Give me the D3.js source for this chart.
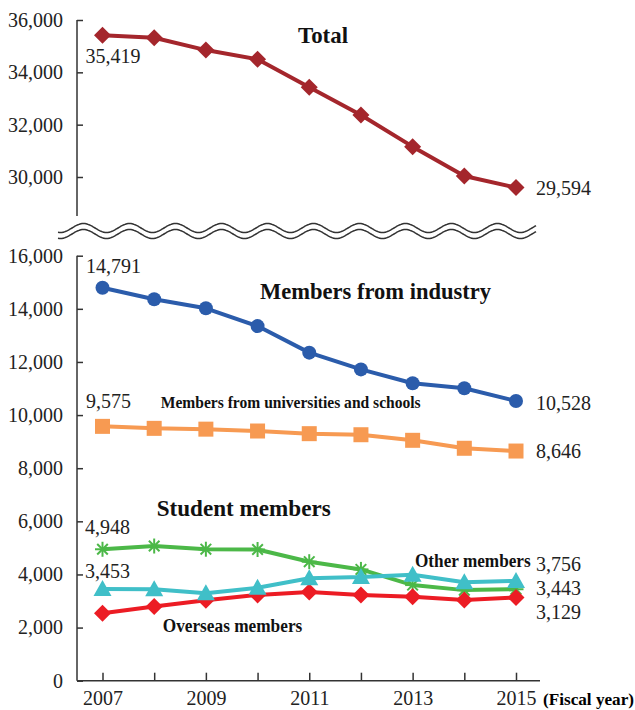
<!DOCTYPE html>
<html>
<head>
<meta charset="utf-8">
<script src="https://cdn.jsdelivr.net/npm/d3@7"></script>
<style>
  html, body { margin: 0; padding: 0; background: #fff; }
  svg { display: block; }
</style>
</head>
<body>
<svg id="chart" width="635" height="710"></svg>
<script>
// ---------------- data ----------------
const years = [2007, 2008, 2009, 2010, 2011, 2012, 2013, 2014, 2015];
const yearLabels = ["2007", "", "2009", "", "2011", "", "2013", "", "2015"];
const totalTicks = [30000, 32000, 34000, 36000];
const lowerTicks = [0, 2000, 4000, 6000, 8000, 10000, 12000, 14000, 16000];

const total        = [35419, 35320, 34850, 34500, 33430, 32370, 31160, 30040, 29594];
const industry     = [14791, 14360, 14020, 13350, 12350, 11720, 11200, 11010, 10528];
const universities = [9575, 9500, 9470, 9400, 9300, 9260, 9050, 8750, 8646];
const students     = [4948, 5070, 4950, 4940, 4480, 4190, 3600, 3410, 3443];
const others       = [3453, 3440, 3290, 3500, 3860, 3900, 3990, 3710, 3756];
const overseas     = [2540, 2790, 3030, 3230, 3340, 3230, 3160, 3040, 3129];

const seriesNames = ["Total", "Members from industry", "Members from universities and schools",
                     "Student members", "Other members", "Overseas members"];

// ---------------- layout ----------------
const svg = d3.select("#chart");
const axisColor = "#333";
const numFont = "'Liberation Serif', 'Times New Roman', serif";

const x = d3.scaleLinear().domain([2007, 2015]).range([102.5, 516]);
const yTop = d3.scaleLinear().domain([30000, 36000]).range([177, 20]);
const yBot = d3.scaleLinear().domain([0, 16000]).range([680.7, 255.7]);
const axisX = 77;

// ---------------- axes ----------------
function styleAxis(g) {
  g.selectAll("path.domain").remove();
  g.selectAll(".tick line").attr("stroke", axisColor).attr("stroke-width", 1.5);
  g.selectAll(".tick text").attr("fill", "#222").style("font-family", numFont).style("font-size", "20px");
}

// top y axis
svg.append("line").attr("x1", axisX).attr("x2", axisX).attr("y1", yTop(36000)).attr("y2", 216)
  .attr("stroke", axisColor).attr("stroke-width", 1.5);
svg.append("g").attr("transform", `translate(${axisX},0)`)
  .call(d3.axisLeft(yTop).tickValues(totalTicks).tickFormat(d3.format(",")).tickSizeInner(-6).tickSizeOuter(0).tickPadding(14))
  .call(styleAxis);

// bottom y axis
svg.append("line").attr("x1", axisX).attr("x2", axisX).attr("y1", yBot(16000)).attr("y2", yBot(0))
  .attr("stroke", axisColor).attr("stroke-width", 1.5);
svg.append("g").attr("transform", `translate(${axisX},0)`)
  .call(d3.axisLeft(yBot).tickValues(lowerTicks).tickFormat(d3.format(",")).tickSizeInner(-6).tickSizeOuter(0).tickPadding(14))
  .call(styleAxis);

// x axis
svg.append("line").attr("x1", axisX).attr("x2", 540).attr("y1", yBot(0)).attr("y2", yBot(0))
  .attr("stroke", axisColor).attr("stroke-width", 1.5);
svg.append("g").attr("transform", `translate(0,${yBot(0)})`)
  .call(d3.axisBottom(x).tickValues(years).tickFormat((d, i) => yearLabels[i]).tickSizeInner(-8).tickSizeOuter(0).tickPadding(10))
  .call(styleAxis);

svg.append("text").attr("x", 543).attr("y", 705)
  .attr("font-family", numFont).attr("font-weight", "bold").attr("font-size", 17)
  .attr("textLength", 91).attr("lengthAdjust", "spacingAndGlyphs")
  .text("(Fiscal year)");

// ---------------- axis break (double wave) ----------------
const wavePeriod = 46, waveAmp = 4.5;
const wavePts = d3.range(58, 537, 1);
const waveLine = d3.line().curve(d3.curveBasis);
[228, 234].forEach(cy => {
  svg.append("path")
    .attr("d", waveLine(wavePts.map(px => [px, cy - waveAmp * Math.sin((px - 72) / wavePeriod * 2 * Math.PI)])))
    .attr("fill", "none").attr("stroke", "#333").attr("stroke-width", 1.5);
});

// ---------------- markers ----------------
function drawSeries(values, yScale, color, symbol) {
  const pts = values.map((v, i) => [x(years[i]), yScale(v)]);
  svg.append("path").attr("d", d3.line()(pts))
    .attr("fill", "none").attr("stroke", color).attr("stroke-width", 4).attr("stroke-linejoin", "round");
  const g = svg.append("g");
  pts.forEach(([px, py]) => {
    if (symbol === "diamond") {
      const r = 8.5;
      g.append("path").attr("d", `M${px},${py - r}L${px + r},${py}L${px},${py + r}L${px - r},${py}Z`).attr("fill", color);
    } else if (symbol === "circle") {
      g.append("circle").attr("cx", px).attr("cy", py).attr("r", 7).attr("fill", color);
    } else if (symbol === "square") {
      g.append("rect").attr("x", px - 7.5).attr("y", py - 7.5).attr("width", 15).attr("height", 15).attr("fill", color);
    } else if (symbol === "triangle") {
      g.append("path").attr("d", `M${px},${py - 9}L${px + 9},${py + 7}L${px - 9},${py + 7}Z`).attr("fill", color);
    } else if (symbol === "star") {
      const r = 7.5;
      [0, 45, 90, 135].forEach(a => {
        const rad = a * Math.PI / 180;
        g.append("line")
          .attr("x1", px - r * Math.cos(rad)).attr("y1", py - r * Math.sin(rad))
          .attr("x2", px + r * Math.cos(rad)).attr("y2", py + r * Math.sin(rad))
          .attr("stroke", color).attr("stroke-width", 2);
      });
    }
  });
}

drawSeries(total, yTop, "#a4262c", "diamond");
drawSeries(industry, yBot, "#2b5cab", "circle");
drawSeries(universities, yBot, "#f79a52", "square");
drawSeries(students, yBot, "#4cb848", "star");
drawSeries(overseas, yBot, "#ec1c24", "diamond");
drawSeries(others, yBot, "#40bfc8", "triangle");

// ---------------- value labels ----------------
const first = 0, last = years.length - 1;
const valueLabels = [
  { v: total[first], y: yTop, i: first, dx: -17, dy: 28 },
  { v: total[last], y: yTop, i: last, dx: 20, dy: 7 },
  { v: industry[first], y: yBot, i: first, dx: -16.5, dy: -14.5 },
  { v: industry[last], y: yBot, i: last, dx: 20, dy: 9 },
  { v: universities[first], y: yBot, i: first, dx: -16.5, dy: -18 },
  { v: universities[last], y: yBot, i: last, dx: 20, dy: 7 },
  { v: students[first], y: yBot, i: first, dx: -17.5, dy: -15 },
  { v: others[first], y: yBot, i: first, dx: -17.5, dy: -11 },
  { v: others[last], y: yBot, i: last, dx: 20, dy: -10 },
  { v: students[last], y: yBot, i: last, dx: 20, dy: 6 },
  { v: overseas[last], y: yBot, i: last, dx: 20, dy: 21 }
];
valueLabels.forEach(l => {
  svg.append("text")
    .attr("x", x(years[l.i]) + l.dx).attr("y", l.y(l.v) + l.dy)
    .attr("font-family", numFont).attr("font-size", 20).attr("fill", "#222")
    .text(d3.format(",")(l.v));
});

// ---------------- series names ----------------
const nameLabels = [
  { t: seriesNames[0], x: 298, y: 43, size: 23, w: 50 },
  { t: seriesNames[1], x: 260, y: 299, size: 23.5, w: 231 },
  { t: seriesNames[2], x: 160.7, y: 408.3, size: 17, w: 260 },
  { t: seriesNames[3], x: 156.7, y: 516, size: 23.5, w: 174 },
  { t: seriesNames[4], x: 415, y: 566.7, size: 18, w: 115.7 },
  { t: seriesNames[5], x: 162.7, y: 631.7, size: 18, w: 139.6 }
];
nameLabels.forEach(l => {
  svg.append("text").attr("x", l.x).attr("y", l.y)
    .attr("font-family", numFont).attr("font-weight", "bold").attr("font-size", l.size)
    .attr("textLength", l.w).attr("lengthAdjust", "spacingAndGlyphs")
    .attr("fill", "#111").text(l.t);
});
</script>
</body>
</html>
